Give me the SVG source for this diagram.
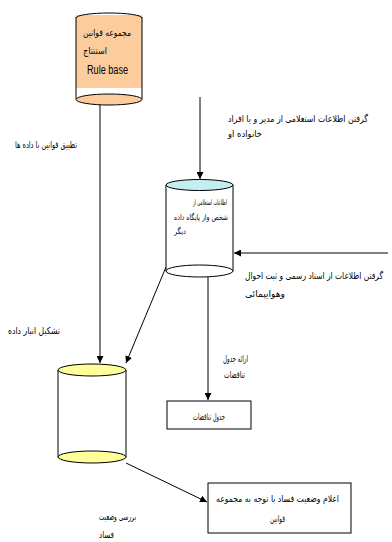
<svg xmlns="http://www.w3.org/2000/svg" width="392" height="542" viewBox="0 0 392 542">
<defs>
<marker id="ah" viewBox="0 0 10 10" refX="10" refY="5" markerWidth="7" markerHeight="7" markerUnits="userSpaceOnUse" orient="auto"><path d="M0,0 L10,5 L0,10 z" fill="#000"/></marker>
<style>
.ln{stroke:#000;stroke-width:1;fill:none}
.sh{stroke:#000;stroke-width:1}
.fa{font-family:"DejaVu Sans","Noto Sans",sans-serif;fill:#000;font-size:9.5px}
.sm{font-size:8px}
.en{font-family:"Liberation Sans",Arial,sans-serif;fill:#000}
</style>
</defs>
<rect width="392" height="542" fill="#fff"/>
<g id="connectors">
<line class="ln" x1="100" y1="105" x2="100" y2="363" marker-end="url(#ah)"/>
<line class="ln" x1="200" y1="97" x2="200" y2="179" marker-end="url(#ah)"/>
<line class="ln" x1="388" y1="253" x2="234" y2="253" marker-end="url(#ah)"/>
<line class="ln" x1="166" y1="267" x2="126" y2="363" marker-end="url(#ah)"/>
<line class="ln" x1="208" y1="277" x2="208" y2="400" marker-end="url(#ah)"/>
<line class="ln" x1="126" y1="463" x2="207" y2="502" marker-end="url(#ah)"/>
</g>
<g id="n-rulebase">
<rect x="76" y="15" width="66" height="73" fill="#fdcc9c"/>
<path class="ln" d="M76,18 A33,5 0 0 1 142,18" stroke="#888"/>
<line class="ln" x1="76" y1="17" x2="76" y2="99"/>
<line class="ln" x1="142" y1="17" x2="142" y2="99"/>
<ellipse class="sh" cx="109" cy="99.5" rx="33" ry="5.5" fill="#fdcc9c"/>
<text class="fa" x="83" y="36" textLength="48" lengthAdjust="spacingAndGlyphs" font-size="10.5">مجموعه قوانین</text>
<text class="fa" x="83" y="54" textLength="24" lengthAdjust="spacingAndGlyphs" font-size="10.5">استنتاج</text>
<text class="en" x="87" y="74" font-size="12" textLength="41" lengthAdjust="spacingAndGlyphs">Rule base</text>
</g>
<g id="n-inquiry">
<rect x="166" y="185" width="67" height="86" fill="#fff"/>
<line class="ln" x1="166" y1="185" x2="166" y2="271"/>
<line class="ln" x1="233" y1="185" x2="233" y2="271"/>
<ellipse class="sh" cx="199.5" cy="185" rx="33.5" ry="5.5" fill="#c6eef0"/>
<ellipse class="sh" cx="199.5" cy="271" rx="33.5" ry="6" fill="#fff"/>
<text class="fa sm" x="193" y="205" textLength="34" lengthAdjust="spacingAndGlyphs">اطلاعات استعلامی از</text>
<text class="fa sm" x="174" y="220" textLength="54" lengthAdjust="spacingAndGlyphs">شخص واز پایگاه داده</text>
<text class="fa sm" x="174" y="234" textLength="12" lengthAdjust="spacingAndGlyphs">دیگر</text>
</g>
<g id="n-warehouse">
<rect x="58" y="370" width="68" height="87" fill="#fff"/>
<line class="ln" x1="58" y1="370" x2="58" y2="457"/>
<line class="ln" x1="126" y1="370" x2="126" y2="457"/>
<ellipse class="sh" cx="92" cy="370" rx="34" ry="6" fill="#ffff99"/>
<ellipse class="sh" cx="92" cy="457" rx="34" ry="6" fill="#ffff99"/>
</g>
<g id="n-contradictions">
<rect class="sh" x="167" y="401" width="84" height="28" fill="#fff"/>
<text class="fa" x="193" y="420" textLength="32" lengthAdjust="spacingAndGlyphs">جدول تناقضات</text>
</g>
<g id="n-report">
<rect class="sh" x="208" y="483" width="143" height="50" fill="#fff"/>
<text class="fa" x="216" y="502" textLength="123" lengthAdjust="spacingAndGlyphs">اعلام وضعیت فساد با توجه به مجموعه</text>
<text class="fa" x="270" y="522" textLength="15" lengthAdjust="spacingAndGlyphs">قوانین</text>
</g>
<g id="labels">
<text class="fa" x="15" y="148" textLength="62" lengthAdjust="spacingAndGlyphs">تطبیق قوانین با داده ها</text>
<text class="fa" x="228" y="122" textLength="140" lengthAdjust="spacingAndGlyphs">گرفتن اطلاعات استعلامی از مدیر و یا افراد</text>
<text class="fa" x="228" y="137" textLength="34" lengthAdjust="spacingAndGlyphs">خانواده او</text>
<text class="fa" x="245" y="279" textLength="138" lengthAdjust="spacingAndGlyphs">گرفتن اطلاعات از اسناد رسمی و ثبت احوال</text>
<text class="fa" x="245" y="297" textLength="40" lengthAdjust="spacingAndGlyphs">وهوایپمائی</text>
<text class="fa" x="8" y="334" textLength="52" lengthAdjust="spacingAndGlyphs">تشکیل انبار داده</text>
<text class="fa" x="223" y="362" textLength="25" lengthAdjust="spacingAndGlyphs">ارائه جدول</text>
<text class="fa" x="224" y="378" textLength="21" lengthAdjust="spacingAndGlyphs">تناقضات</text>
<text class="fa" x="99" y="520" textLength="37" lengthAdjust="spacingAndGlyphs">بررسی وضعیت</text>
<text class="fa" x="99" y="538" textLength="15" lengthAdjust="spacingAndGlyphs">فساد</text>
</g>
</svg>
